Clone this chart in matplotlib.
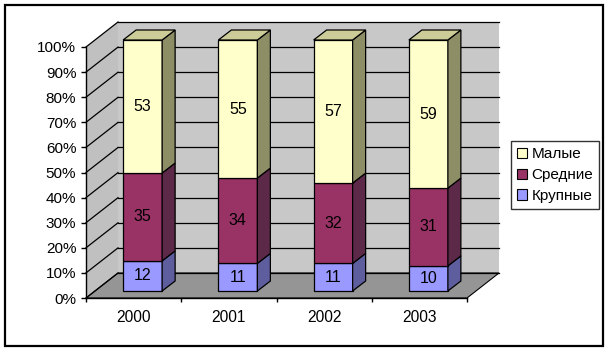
import numpy as np
import matplotlib
matplotlib.use("Agg")
import matplotlib.pyplot as plt
from matplotlib.patches import Patch, Rectangle
from matplotlib.ticker import PercentFormatter

plt.rcParams['font.family'] = ['Liberation Sans', 'DejaVu Sans']
plt.rcParams['font.size'] = 11

# данные
years = ['2000', '2001', '2002', '2003']
krupnye = [12, 11, 11, 10]
srednie = [35, 34, 32, 31]
malye = [53, 55, 57, 59]

series = [
    ('Крупные', krupnye, '#9999FF', '#5E5E9E', '#7A7AC8'),
    ('Средние', srednie, '#993366', '#5C2A48', '#7A2D55'),
    ('Малые', malye, '#FFFFCC', '#8E8E66', '#CCCC99'),
]

W, H = 610, 352
fig = plt.figure(figsize=(W / 100, H / 100), dpi=100)
fig.patch.set_facecolor('white')

# внешняя рамка
fig.patches.append(Rectangle((5 / W, 1 - 346 / H), 598 / W, 341 / H,
                             transform=fig.transFigure, fill=False,
                             edgecolor='black', lw=1.6))

# передняя плоскость осей
x0, x1, ytop, ybot = 86, 467, 47, 298
ax = fig.add_axes([x0 / W, 1 - ybot / H, (x1 - x0) / W, (ybot - ytop) / H])
ax.set_xlim(0, 4)
ax.set_ylim(0, 100)
ax.patch.set_visible(False)

sx = (x1 - x0) / 4.0       # пикселей на категорию
sy = (ybot - ytop) / 100.0  # пикселей на процент

# глубина (в пикселях -> в единицах данных)
DX, DY = 32 / sx, 25 / sy
OX, OY = 9 / sx, 7 / sy
BX, BY = 13 / sx, 10 / sy
bw = 39 / sx

# стены
ax.fill([DX, 4 + DX, 4 + DX, DX], [DY, DY, 100 + DY, 100 + DY],
        color='#C8C8C8', lw=0, clip_on=False, zorder=0)
ax.fill([0, DX, DX, 0], [0, DY, 100 + DY, 100],
        color='#C0C0C0', lw=0, clip_on=False, zorder=0)
ax.fill([0, 4, 4 + DX, DX], [0, 0, DY, DY],
        facecolor='#959595', edgecolor='black', lw=0.8, clip_on=False, zorder=0)

for v in range(0, 101, 10):
    ax.plot([DX, 4 + DX], [v + DY, v + DY], color='black', lw=0.9,
            clip_on=False, zorder=1)
    ax.plot([0, DX], [v, v + DY], color='black', lw=0.9,
            clip_on=False, zorder=1)

# столбцы
xc = np.arange(len(years)) + 0.5
bottom = np.zeros(len(years))
for name, vals, front, side, top in series:
    vals = np.array(vals, dtype=float)
    ax.bar(xc + OX, vals, width=bw, bottom=bottom + OY, color=front,
           edgecolor='black', lw=0.9, clip_on=False, zorder=3)
    for i in range(len(years)):
        xr = xc[i] + OX + bw / 2
        yb = bottom[i] + OY
        yt = bottom[i] + vals[i] + OY
        ax.fill([xr, xr + BX, xr + BX, xr], [yb, yb + BY, yt + BY, yt],
                facecolor=side, edgecolor='black', lw=0.9,
                clip_on=False, zorder=3)
        ax.text(xc[i] + OX, (yb + yt) / 2, f'{int(vals[i])}',
                ha='center', va='center', fontsize=11.5, zorder=4)
    bottom += vals

# верхние грани
for i in range(len(years)):
    xl = xc[i] + OX - bw / 2
    xr = xc[i] + OX + bw / 2
    yt = bottom[i] + OY
    ax.fill([xl, xr, xr + BX, xl + BX], [yt, yt, yt + BY, yt + BY],
            facecolor=series[-1][4], edgecolor='black', lw=0.9,
            clip_on=False, zorder=3)

# оси
ax.spines['top'].set_visible(False)
ax.spines['right'].set_visible(False)
ax.spines['left'].set_linewidth(1)
ax.spines['bottom'].set_linewidth(1)
ax.set_yticks(range(0, 101, 10))
ax.yaxis.set_major_formatter(PercentFormatter(100, decimals=0))
ax.tick_params(axis='y', length=3.5, width=1, pad=3.5, labelsize=11)
ax.set_xticks(range(0, 5))
ax.set_xticklabels([])
ax.set_xticks(xc, minor=True)
ax.set_xticklabels(years, minor=True)
ax.tick_params(axis='x', which='major', length=3, width=1)
ax.tick_params(axis='x', which='minor', length=0, pad=9, labelsize=11.2)

# легенда
handles = [Patch(facecolor=c, edgecolor='black', lw=0.8, label=n)
           for n, _, c, _, _ in series[::-1]]
leg = fig.legend(handles=handles, loc='upper left',
                 bbox_to_anchor=(511 / W, 1 - 141 / H), fontsize=11,
                 frameon=True, fancybox=False, handlelength=0.65,
                 handleheight=0.65, handletextpad=0.3, labelspacing=0.45,
                 borderpad=0.4, borderaxespad=0)
leg.get_frame().set_edgecolor('black')
leg.get_frame().set_linewidth(1)

fig.savefig('out.png', dpi=100)
